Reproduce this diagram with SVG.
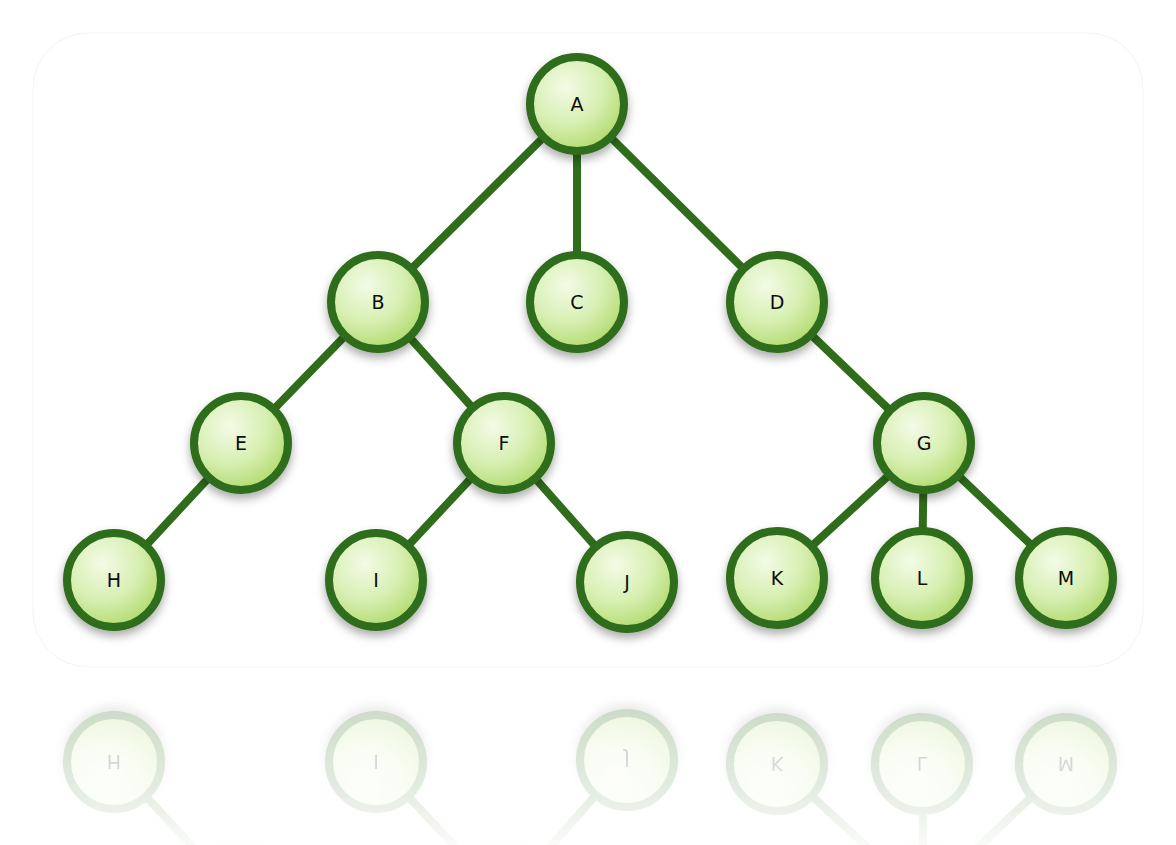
<svg xmlns="http://www.w3.org/2000/svg" xmlns:xlink="http://www.w3.org/1999/xlink" width="1176" height="845" viewBox="0 0 1176 845">
  <defs>
    <radialGradient id="nodeFill" cx="0.38" cy="0.32" r="0.72">
      <stop offset="0" stop-color="#f3fbe6"/>
      <stop offset="0.55" stop-color="#d7efb2"/>
      <stop offset="1" stop-color="#b0da6c"/>
    </radialGradient>
    <filter id="shadow" x="-40%" y="-40%" width="180%" height="190%">
      <feDropShadow dx="0" dy="5" stdDeviation="5" flood-color="#000" flood-opacity="0.33"/>
    </filter>
    <linearGradient id="reflGrad" gradientUnits="userSpaceOnUse" x1="0" y1="690" x2="0" y2="845">
      <stop offset="0" stop-color="#fff" stop-opacity="0.27"/>
      <stop offset="0.6" stop-color="#fff" stop-opacity="0.14"/>
      <stop offset="1" stop-color="#fff" stop-opacity="0.03"/>
    </linearGradient>
    <mask id="reflMask" maskUnits="userSpaceOnUse" x="0" y="672" width="1176" height="173">
      <rect x="0" y="672" width="1176" height="173" fill="url(#reflGrad)"/>
    </mask>
    <style>
      .edge { stroke: #2f6d1a; stroke-width: 8; stroke-linecap: round; fill: none; }
      .node circle { fill: url(#nodeFill); stroke: #2f6d1a; stroke-width: 8; filter: url(#shadow); }
      .node text { font-family: "DejaVu Sans", "Liberation Sans", sans-serif; font-size: 19px; fill: #0d0d0d; text-anchor: middle; }
      .frame { fill: none; stroke: #f4f4f4; stroke-width: 1; }
    </style>
  </defs>

  <rect width="1176" height="845" fill="#ffffff"/>
  <rect class="frame" x="33" y="33" width="1110" height="634" rx="55" ry="55"/>

  <g id="tree">
    <g id="connectors">
      <line class="edge" x1="577" y1="104" x2="378" y2="302"/>
      <line class="edge" x1="577" y1="104" x2="577" y2="302"/>
      <line class="edge" x1="577" y1="104" x2="777" y2="302"/>
      <line class="edge" x1="378" y1="302" x2="241" y2="443"/>
      <line class="edge" x1="378" y1="302" x2="504" y2="443"/>
      <line class="edge" x1="777" y1="302" x2="924" y2="443"/>
      <line class="edge" x1="241" y1="443" x2="114" y2="580"/>
      <line class="edge" x1="504" y1="443" x2="376" y2="580"/>
      <line class="edge" x1="504" y1="443" x2="627" y2="582"/>
      <line class="edge" x1="924" y1="443" x2="777" y2="578"/>
      <line class="edge" x1="924" y1="443" x2="922" y2="578"/>
      <line class="edge" x1="924" y1="443" x2="1066" y2="578"/>
    </g>
    <g id="node-A" class="node"><circle cx="577" cy="104" r="47"/><text x="577" y="111">A</text></g>
    <g id="node-B" class="node"><circle cx="378" cy="302" r="47"/><text x="378" y="309">B</text></g>
    <g id="node-C" class="node"><circle cx="577" cy="302" r="47"/><text x="577" y="309">C</text></g>
    <g id="node-D" class="node"><circle cx="777" cy="302" r="47"/><text x="777" y="309">D</text></g>
    <g id="node-E" class="node"><circle cx="241" cy="443" r="47"/><text x="241" y="450">E</text></g>
    <g id="node-F" class="node"><circle cx="504" cy="443" r="47"/><text x="504" y="450">F</text></g>
    <g id="node-G" class="node"><circle cx="924" cy="443" r="47"/><text x="924" y="450">G</text></g>
    <g id="node-H" class="node"><circle cx="114" cy="580" r="47"/><text x="114" y="587">H</text></g>
    <g id="node-I" class="node"><circle cx="376" cy="580" r="47"/><text x="376" y="587">I</text></g>
    <g id="node-J" class="node"><circle cx="627" cy="582" r="47"/><text x="627" y="589">J</text></g>
    <g id="node-K" class="node"><circle cx="777" cy="578" r="47"/><text x="777" y="585">K</text></g>
    <g id="node-L" class="node"><circle cx="922" cy="578" r="47"/><text x="922" y="585">L</text></g>
    <g id="node-M" class="node"><circle cx="1066" cy="578" r="47"/><text x="1066" y="585">M</text></g>
  </g>

  <g id="reflection" mask="url(#reflMask)">
    <use xlink:href="#tree" href="#tree" transform="translate(0,1342) scale(1,-1)"/>
  </g>
</svg>
